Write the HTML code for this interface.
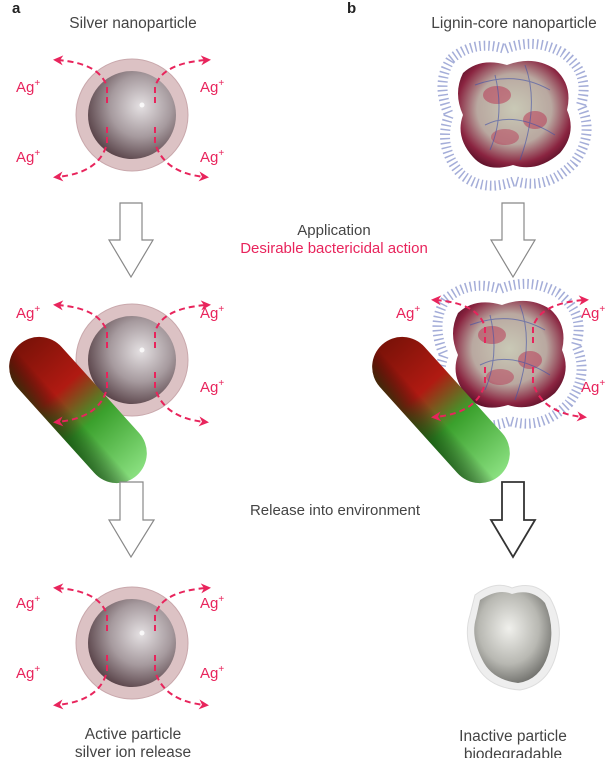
<!DOCTYPE html>
<html><head><meta charset="utf-8"><style>
html,body{margin:0;padding:0;background:#fff;}
svg{display:block;}
text{font-family:"Liberation Sans",sans-serif;}
</style></head><body>
<svg width="615" height="758" viewBox="0 0 615 758" xmlns="http://www.w3.org/2000/svg">
<defs>
<radialGradient id="ag" cx="0.6" cy="0.4" r="0.7">
<stop offset="0" stop-color="#e4e0e2"/><stop offset="0.5" stop-color="#a69a9e"/><stop offset="1" stop-color="#4a3238"/>
</radialGradient>
<radialGradient id="lg" cx="0.5" cy="0.45" r="0.6">
<stop offset="0" stop-color="#c9c9b6"/><stop offset="0.55" stop-color="#b9a8a0"/><stop offset="0.85" stop-color="#8a2440"/><stop offset="1" stop-color="#5a1028"/>
</radialGradient>
<radialGradient id="gr" cx="0.45" cy="0.4" r="0.65">
<stop offset="0" stop-color="#f0f0ec"/><stop offset="0.6" stop-color="#b8b8b2"/><stop offset="1" stop-color="#6a6a66"/>
</radialGradient>
<linearGradient id="bac" x1="0" y1="0" x2="1" y2="0">
<stop offset="0" stop-color="#7a1208"/><stop offset="0.35" stop-color="#b01a12"/><stop offset="0.6" stop-color="#3aa02c"/><stop offset="1" stop-color="#8ae080"/>
</linearGradient>
<linearGradient id="bacs" x1="0" y1="0" x2="0" y2="1">
<stop offset="0" stop-color="#000" stop-opacity="0"/><stop offset="0.6" stop-color="#000" stop-opacity="0"/><stop offset="1" stop-color="#0a3a08" stop-opacity="0.6"/>
</linearGradient>
<marker id="ah" viewBox="0 0 10 10" refX="6" refY="5" markerWidth="5" markerHeight="5" orient="auto"><path d="M0,0 L10,5 L0,10 L3,5 Z" fill="#e8245c"/></marker>
<g id="silver">
<circle r="56" fill="#dcc2c4" stroke="#c9a8ac" stroke-width="1"/>
<circle r="44" fill="url(#ag)"/>
<circle cx="10" cy="-10" r="2.5" fill="#fff" opacity="0.8"/>
</g>
<g id="ions" fill="none" stroke="#e8245c" stroke-width="2" stroke-dasharray="6,4" marker-end="url(#ah)">
<path d="M-25,-12 L-25,-28 Q-32,-52 -75,-55"/>
<path d="M23,-12 L23,-28 Q30,-52 75,-55"/>
<path d="M-25,12 L-25,28 Q-32,58 -75,62"/>
<path d="M23,12 L23,28 Q32,58 73,62"/>
</g>
<g id="lignin">
<path d="M-64,-56 Q-40,-76 -10,-66 Q20,-78 48,-62 Q76,-42 66,-10 Q80,20 59,48 Q32,76 0,66 Q-32,78 -54,59 Q-78,32 -66,0 Q-80,-32 -64,-56Z" fill="none" stroke="#5a6ab8" stroke-width="10" stroke-dasharray="1.5,3" opacity="0.55"/>
<path d="M-52,-42 Q-35,-58 -8,-50 Q18,-60 40,-46 Q58,-30 52,-5 Q62,18 45,38 Q22,58 -2,50 Q-28,58 -42,42 Q-60,22 -52,0 Q-62,-22 -52,-42Z" fill="url(#lg)"/>
<ellipse cx="-18" cy="-20" rx="14" ry="9" fill="#b83050" opacity="0.5"/>
<ellipse cx="20" cy="5" rx="12" ry="9" fill="#b83050" opacity="0.5"/>
<ellipse cx="-10" cy="22" rx="14" ry="8" fill="#b83050" opacity="0.45"/>
<path d="M-40,-30 Q0,-45 35,-25 M-30,10 Q0,-5 40,20 M-20,-40 Q-10,0 -25,35 M10,-50 Q25,-10 5,45" stroke="#4050a8" stroke-width="1" fill="none" opacity="0.6"/>
</g>
<g id="bact">
<rect x="-88" y="-30" width="176" height="60" rx="30" fill="url(#bac)"/>
<rect x="-88" y="-30" width="176" height="60" rx="30" fill="url(#bacs)"/>
</g>
</defs>

<text x="12" y="13" font-size="15" font-weight="bold" fill="#222">a</text>
<text x="347" y="13" font-size="15" font-weight="bold" fill="#222">b</text>
<text x="133" y="28" font-size="15.5" fill="#444" text-anchor="middle">Silver nanoparticle</text>
<text x="514" y="28" font-size="15.5" fill="#444" text-anchor="middle">Lignin-core nanoparticle</text>

<use href="#silver" x="132" y="115"/>
<use href="#ions" x="132" y="115"/>
<g font-size="15" fill="#e8245c">
<text x="16" y="92">Ag<tspan font-size="10" dy="-6">+</tspan></text>
<text x="200" y="92">Ag<tspan font-size="10" dy="-6">+</tspan></text>
<text x="16" y="162">Ag<tspan font-size="10" dy="-6">+</tspan></text>
<text x="200" y="162">Ag<tspan font-size="10" dy="-6">+</tspan></text>
</g>
<use href="#lignin" x="515" y="115"/>

<path d="M120,203 H142 V240 H153 L131,277 L109,240 H120 Z" fill="#fff" stroke="#888" stroke-width="1.2"/>
<path d="M502,203 H524 V240 H535 L513,277 L491,240 H502 Z" fill="#fff" stroke="#888" stroke-width="1.2"/>

<text x="334" y="235" font-size="15" fill="#444" text-anchor="middle">Application</text>
<text x="334" y="253" font-size="15" fill="#e8245c" text-anchor="middle">Desirable bactericidal action</text>

<use href="#silver" x="132" y="360"/>
<use href="#bact" transform="translate(78,410) rotate(48)"/>
<use href="#ions" x="132" y="360"/>
<use href="#lignin" x="510" y="355"/>
<use href="#bact" transform="translate(441,410) rotate(48)"/>
<use href="#ions" x="510" y="355"/>
<g font-size="15" fill="#e8245c">
<text x="16" y="318">Ag<tspan font-size="10" dy="-6">+</tspan></text>
<text x="200" y="318">Ag<tspan font-size="10" dy="-6">+</tspan></text>
<text x="200" y="392">Ag<tspan font-size="10" dy="-6">+</tspan></text>
<text x="396" y="318">Ag<tspan font-size="10" dy="-6">+</tspan></text>
<text x="581" y="318">Ag<tspan font-size="10" dy="-6">+</tspan></text>
<text x="581" y="392">Ag<tspan font-size="10" dy="-6">+</tspan></text>
</g>

<path d="M120,482 H143 V520 H154 L131,557 L109,520 H120 Z" fill="#fff" stroke="#888" stroke-width="1.2"/>
<path d="M502,482 H524 V520 H535 L513,557 L491,520 H502 Z" fill="#fff" stroke="#333" stroke-width="1.8"/>
<text x="335" y="515" font-size="15" fill="#444" text-anchor="middle">Release into environment</text>

<use href="#silver" x="132" y="643"/>
<use href="#ions" x="132" y="643"/>
<g font-size="15" fill="#e8245c">
<text x="16" y="608">Ag<tspan font-size="10" dy="-6">+</tspan></text>
<text x="200" y="608">Ag<tspan font-size="10" dy="-6">+</tspan></text>
<text x="16" y="678">Ag<tspan font-size="10" dy="-6">+</tspan></text>
<text x="200" y="678">Ag<tspan font-size="10" dy="-6">+</tspan></text>
</g>
<path d="M475,595 Q495,580 512,588 Q535,580 550,598 Q565,625 556,655 Q548,685 520,690 Q490,688 478,668 Q462,640 470,615Z" fill="#eeeeee" stroke="#ddd"/>
<path d="M480,600 Q498,588 512,594 Q532,588 545,603 Q556,628 548,655 Q540,680 518,683 Q494,680 484,663 Q470,638 476,618Z" fill="url(#gr)"/>

<text x="133" y="739" font-size="15.5" fill="#444" text-anchor="middle">Active particle</text>
<text x="133" y="757" font-size="15.5" fill="#444" text-anchor="middle">silver ion release</text>
<text x="513" y="741" font-size="15.5" fill="#444" text-anchor="middle">Inactive particle</text>
<text x="513" y="759" font-size="15.5" fill="#444" text-anchor="middle">biodegradable</text>
</svg>
</body></html>
